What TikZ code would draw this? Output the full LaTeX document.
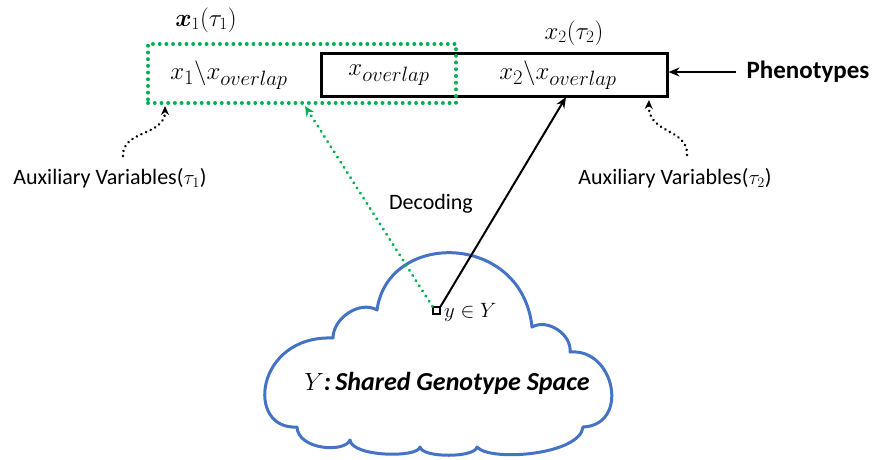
\documentclass[tikz,border=0pt]{standalone}
\usepackage{fontspec}
\setmainfont{Carlito}
\usepackage{bm}
\usetikzlibrary{arrows.meta,calc}
\definecolor{cloudblue}{RGB}{68,114,196}
\definecolor{dotgreen}{RGB}{0,176,80}
\begin{document}
\begin{tikzpicture}[x=1pt,y=-1pt,
  mathlbl/.style={font=\fontsize{29}{32}\selectfont, inner sep=0pt},
  toplbl/.style={font=\fontsize{27}{30}\selectfont, inner sep=0pt},
  sanslbl/.style={font=\fontsize{22}{26}\selectfont, inner sep=0pt},
  greenbox/.style={draw=dotgreen, line width=3.8pt, line cap=round, dash pattern=on 0.1pt off 6.6pt},
  blackbox/.style={draw=black, line width=3pt},
  greenline/.style={draw=dotgreen, line width=3.2pt, line cap=round, dash pattern=on 0.1pt off 6pt, -{Stealth[length=10pt,width=9pt]}},
  auxarrow/.style={line width=2.7pt, line cap=round, dash pattern=on 0.1pt off 5pt, -{Stealth[length=9pt,width=8pt]}},
  solidarrow/.style={line width=2pt, -{Stealth[length=11pt,width=9pt]}},
  cloudline/.style={draw=cloudblue, line width=3pt, line join=round},
]
\useasboundingbox (0,0) rectangle (880,459);

% boxes
\node[blackbox, minimum width=346pt, minimum height=43pt, inner sep=0pt] (pheno) at (494,74.5) {};
\node[greenbox, minimum width=308pt, minimum height=59pt, inner sep=0pt] (gbox) at (302,73.5) {};

% box texts
\node[mathlbl] (t1) at (229,75) {$x_1\backslash x_{overlap}$};
\node[mathlbl] (t2) at (389,75) {$x_{overlap}$};
\node[mathlbl] (t3) at (558,75) {$x_2\backslash x_{overlap}$};

% top labels
\node[toplbl] (l1) at (206,20) {$\bm{x}_1(\tau_1)$};
\node[toplbl] (l2) at (574,33) {$x_2(\tau_2)$};

% phenotypes
\node[font=\fontsize{25}{30}\selectfont\bfseries, inner sep=0pt] (ph) at (808,72) {Phenotypes};
\draw[solidarrow] (ph.west) ++(-10pt,0) coordinate (phs) (phs) -- (pheno.east |- phs);

% auxiliary labels
\node[sanslbl] (a1) at (110,178) {Auxiliary Variables($\tau_1$)};
\node[sanslbl] (a2) at (675,178) {Auxiliary Variables($\tau_2$)};
\coordinate (a1s) at (123,156);
\coordinate (a1e) at (165,106);
\coordinate (a2s) at (687,155);
\coordinate (a2e) at (649,100);
\draw[auxarrow] (a1s) .. controls (122,130) and (165,136) .. (a1e);
\draw[auxarrow] (a2s) .. controls (688,128) and (648,134) .. (a2e);

% decoding
\node[sanslbl] (dec) at (431,204) {Decoding};

% cloud
\draw[cloudline]
  (333,338) .. controls (333,318) and (360,300) .. (377,310)
  .. controls (388,230) and (522,232) .. (532,327)
  .. controls (548,318) and (572,335) .. (570,352)
  .. controls (615,348) and (630,425) .. (583,427)
  .. controls (580,455) and (490,462) .. (477,447)
  .. controls (475,458) and (422,458) .. (420,447)
  .. controls (418,458) and (352,457) .. (350,440)
  .. controls (345,453) and (298,450) .. (297,427)
  .. controls (245,430) and (255,335) .. (333,338) -- cycle;
\node[font=\fontsize{26}{30}\selectfont\bfseries\itshape, inner sep=0pt] (ytxt) at (447,383) {$Y$:\,Shared Genotype Space};

% point y
\node[draw, line width=1.2pt, minimum size=7pt, inner sep=0pt] (y) at (436.5,310.5) {};
\node[font=\fontsize{22}{26}\selectfont, anchor=west, inner sep=0pt] (ylbl) at (444,312) {$y\in Y$};

% decoding arrows
\coordinate (gtip) at (305,106);
\coordinate (btip) at (566,97);
\draw[greenline] (y.north west) -- (gtip);
\draw[solidarrow] (y.north east) -- (btip);
\end{tikzpicture}
\end{document}
